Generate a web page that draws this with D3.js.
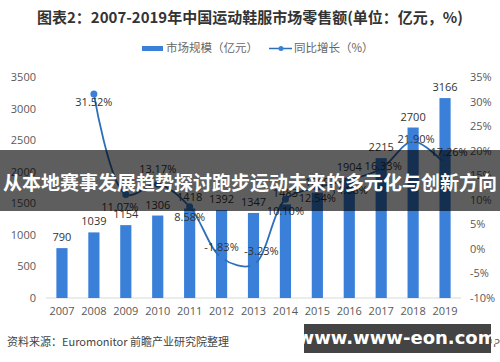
<!DOCTYPE html>
<html lang="zh">
<head>
<meta charset="UTF-8" />
<script src="https://d3js.org/d3.v7.min.js"></script>
<style>
  body{margin:0;background:#fff}
  svg{display:block;font-family:"Noto Sans CJK SC","Noto Sans",sans-serif}
</style>
</head>
<body>
<div id="chart"></div>
<script>
  const years = ["2007","2008","2009","2010","2011","2012","2013","2014","2015","2016","2017","2018","2019"];
  const marketSize = [790, 1039, 1154, 1306, 1418, 1392, 1347, 1483, 1669, 1904, 2215, 2700, 3166];
  const growthYears = years.slice(1);
  const growth = [31.52, 11.07, 13.17, 8.58, -1.83, -3.23, 10.10, 12.54, 14.08, 16.33, 21.90, 17.26];
  const leftTicks = [0, 500, 1000, 1500, 2000, 2500, 3000, 3500];
  const rightTicks = [-10, -5, 0, 5, 10, 15, 20, 25, 30, 35];

  const W = 500, H = 362;
  const BAR = "#3a80d9", LINE = "#2c6fba";

  const svg = d3.select("#chart").append("svg").attr("width", W).attr("height", H);

  // title + legend
  svg.append("text").attr("x", 250).attr("y", 23).attr("text-anchor", "middle")
    .attr("font-size", 15).attr("font-weight", 700).attr("fill", "#333")
    .text("图表2：2007-2019年中国运动鞋服市场零售额(单位：亿元，%)");

  const lg = svg.append("g").attr("font-size", 11.5).attr("fill", "#666");
  lg.append("rect").attr("x", 142).attr("y", 46).attr("width", 21).attr("height", 5).attr("fill", BAR);
  lg.append("text").attr("x", 166).attr("y", 52).text("市场规模（亿元）");
  lg.append("line").attr("x1", 269).attr("x2", 292).attr("y1", 48.5).attr("y2", 48.5).attr("stroke", LINE).attr("stroke-width", 1.5);
  lg.append("circle").attr("cx", 281).attr("cy", 48.5).attr("r", 2.5).attr("fill", BAR);
  lg.append("text").attr("x", 294).attr("y", 52).text("同比增长（%）");

  // scales
  const x = d3.scaleBand().domain(years).range([46, 461]).paddingInner(0.65).paddingOuter(0.325);
  const yL = d3.scaleLinear().domain([0, 3500]).range([298, 77]);
  const yR = d3.scaleLinear().domain([-10, 35]).range([298, 77]);
  const cx = d => x(d) + x.bandwidth() / 2;

  // axes
  const axL = svg.append("g").attr("transform", "translate(38,0)")
    .call(d3.axisLeft(yL).tickValues(leftTicks).tickSize(0).tickPadding(2).tickFormat(d3.format("d")));
  const axR = svg.append("g").attr("transform", "translate(468,0)")
    .call(d3.axisRight(yR).tickValues(rightTicks).tickSize(0).tickPadding(2).tickFormat(d => d + "%"));
  const axB = svg.append("g").attr("transform", "translate(0,298)")
    .call(d3.axisBottom(x).tickSize(0).tickPadding(9));
  [axL, axR, axB].forEach(a => {
    a.select(".domain").remove();
    a.selectAll("text").attr("font-size", 11).attr("fill", "#595959").attr("font-family", "'Open Sans',sans-serif");
  });
  svg.append("line").attr("x1", 46).attr("x2", 461).attr("y1", 298).attr("y2", 298).attr("stroke", "#d9d9d9");

  // bars
  svg.selectAll(".bar").data(years).enter().append("rect").attr("class", "bar")
    .attr("x", d => x(d)).attr("width", x.bandwidth())
    .attr("y", (d, i) => yL(marketSize[i])).attr("height", (d, i) => yL(0) - yL(marketSize[i]))
    .attr("fill", BAR);
  svg.selectAll(".blab").data(years).enter().append("text").attr("class", "blab")
    .attr("x", d => cx(d)).attr("y", (d, i) => yL(marketSize[i]) - 7)
    .attr("text-anchor", "middle").attr("font-size", 11).attr("fill", "#333")
    .attr("font-family", "'Open Sans',sans-serif")
    .text((d, i) => marketSize[i]);

  // growth line
  const pts = growthYears.map((d, i) => [cx(d), yR(growth[i])]);
  svg.append("path").datum(pts).attr("fill", "none").attr("stroke", LINE).attr("stroke-width", 1.8)
    .attr("d", d3.line().curve(d3.curveCatmullRom.alpha(0.5)));
  svg.selectAll(".dot").data(pts).enter().append("circle").attr("class", "dot")
    .attr("cx", d => d[0]).attr("cy", d => d[1]).attr("r", 3.5).attr("fill", BAR);

  const labelOff = [[0, 8], [-6, 12], [0, -15], [0, 10], [0, -11], [8, -14], [0, 12], [0, 11], [0, 10], [2, -3], [3, -2], [4, -12]];
  svg.selectAll(".plab").data(pts).enter().append("text").attr("class", "plab")
    .attr("x", (d, i) => d[0] + labelOff[i][0]).attr("y", (d, i) => d[1] + labelOff[i][1] + 4)
    .attr("text-anchor", "middle").attr("font-size", 11).attr("fill", "#333")
    .attr("font-family", "'Open Sans',sans-serif")
    .text((d, i) => growth[i].toFixed(2) + "%");

  // source line
  svg.append("text").attr("x", 7).attr("y", 346).attr("font-size", 11).attr("fill", "#444")
    .text("资料来源：Euromonitor 前瞻产业研究院整理");
  svg.append("text").attr("x", 500).attr("y", 347).attr("text-anchor", "end").attr("font-size", 11).attr("fill", "#555")
    .text("@前瞻经济学人APP");

  // overlay banner
  svg.append("rect").attr("x", 0).attr("y", 150).attr("width", W).attr("height", 61).attr("fill", "rgba(0,0,0,0.63)");
  svg.append("text").attr("x", 250).attr("y", 190).attr("text-anchor", "middle")
    .attr("font-size", 19).attr("font-weight", 700).attr("fill", "#fff")
    .text("从本地赛事发展趋势探讨跑步运动未来的多元化与创新方向");

  svg.append("rect").attr("x", 304).attr("y", 324).attr("width", 187).attr("height", 29).attr("fill", "#444");
  svg.append("text").attr("x", 397).attr("y", 344).attr("text-anchor", "middle")
    .attr("font-size", 18).attr("font-weight", 700).attr("fill", "#fff")
    .attr("font-family", "'DejaVu Sans',sans-serif")
    .text("www.www-eon.com");
</script>
</body>
</html>
